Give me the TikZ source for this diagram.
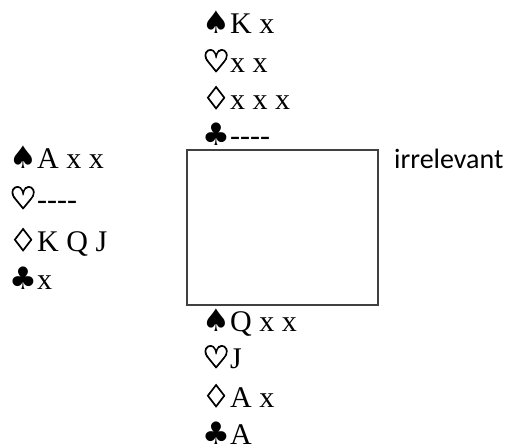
\documentclass[tikz,border=0pt]{standalone}
\usepackage{fontspec}
\setmainfont{Liberation Serif}
\newfontfamily\suitfont{DejaVu Sans}
\newfontfamily\suitfontb{DejaVu Sans}[FakeBold=3]
\newfontfamily\calib{Carlito}
\newcommand{\sS}{\makebox[28pt][l]{\suitfont\fontsize{31}{34}\selectfont ♠}}
\newcommand{\sH}{\makebox[28pt][l]{\suitfontb\fontsize{31}{34}\selectfont ♡}}
\newcommand{\sD}{\makebox[28pt][l]{\suitfontb\fontsize{31}{34}\selectfont ♢}}
\newcommand{\sC}{\makebox[28pt][l]{\suitfont\fontsize{31}{34}\selectfont ♣}}
\newcommand{\void}{{-}{-}{-}{-}}
\begin{document}
\begin{tikzpicture}[x=1pt,y=-1pt,
  hand/.style={anchor=base west,inner sep=0pt,font=\fontsize{30}{34}\selectfont},
  table/.style={draw=black!75,line width=1.2pt}]
\useasboundingbox (0,0) rectangle (509,447);
% north
\node[hand] (n1) at (202,33) {\sS K x};
\node[hand] (n2) at (202,72) {\sH x x};
\node[hand] (n3) at (202,109) {\sD x x x};
\node[hand] (n4) at (202,145) {\sC\void};
% west
\node[hand] (w1) at (9,168) {\sS A x x};
\node[hand] (w2) at (9,209) {\sH\void};
\node[hand] (w3) at (9,251) {\sD K Q J};
\node[hand] (w4) at (9,289) {\sC x};
% south
\node[hand] (s1) at (202,331) {\sS Q x x};
\node[hand] (s2) at (202,368) {\sH J};
\node[hand] (s3) at (202,407) {\sD A x};
\node[hand] (s4) at (202,444) {\sC A};
% table
\node[table,minimum width=191pt,minimum height=155pt,inner sep=0pt] (box) at (282.5,227.5) {};
% east
\node[anchor=base west,inner sep=0pt,font=\calib\fontsize{28}{32}\selectfont] (e) at (394,168) {irrelevant};
\end{tikzpicture}
\end{document}
